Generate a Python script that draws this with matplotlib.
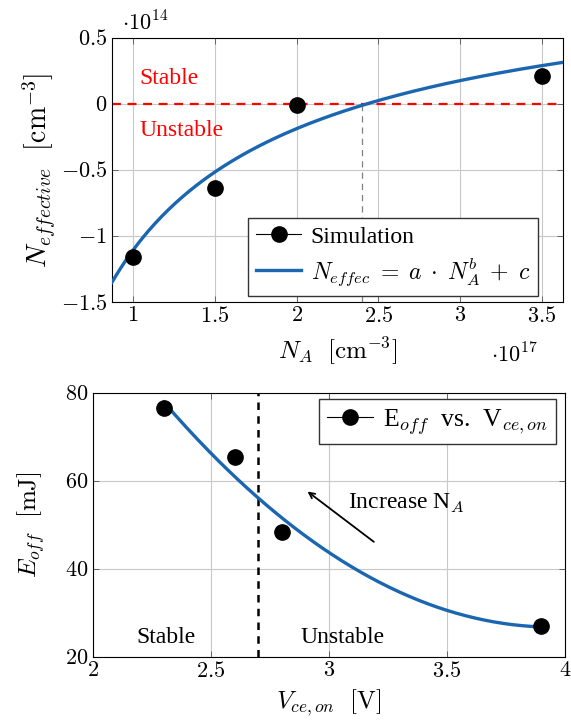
import numpy as np
import matplotlib

matplotlib.use("Agg")
import matplotlib.pyplot as plt  # noqa: E402
from matplotlib.lines import Line2D  # noqa: E402
from matplotlib.ticker import FuncFormatter  # noqa: E402

plt.rcParams["mathtext.fontset"] = "cm"
plt.rcParams["font.family"] = ["Liberation Serif", "DejaVu Serif"]

# top panel: effective doping vs acceptor doping (x in 1e17, y in 1e14 cm^-3)
na = [1.0, 1.5, 2.0, 3.5]
n_eff = [-1.16, -0.64, -0.005, 0.21]
fit_a, fit_b, fit_c = -2.39, -0.7, 1.284   # N_effec = a * N_A^b + c
na_cross = 2.40

# bottom panel: turn-off loss vs on-state voltage
vce = [2.3, 2.6, 2.8, 3.9]
eoff = [76.5, 65.5, 48.5, 27.0]
vce_limit = 2.7

blue = "#1b66b1"
TXT = 17
LBL = 18


def tick_fmt(v, _):
    return f"${v:g}$"


fig = plt.figure(figsize=(5.71, 7.28), dpi=100)
ax1 = fig.add_axes([0.196, 0.585, 0.790, 0.363])
ax2 = fig.add_axes([0.163, 0.0975, 0.826, 0.3626])

for ax in (ax1, ax2):
    ax.grid(True, color="#c8c8c8", lw=0.8)
    ax.set_axisbelow(True)
    ax.tick_params(direction="in", top=True, right=True, length=4, width=0.6,
                   color="#555555", labelsize=16)
    ax.xaxis.set_major_formatter(FuncFormatter(tick_fmt))
    ax.yaxis.set_major_formatter(FuncFormatter(tick_fmt))
    for s in ax.spines.values():
        s.set_linewidth(0.8)

# ---- top
xs = np.linspace(0.87, 3.63, 200)
ax1.axhline(0, color="red", ls=(0, (4, 3)), lw=1.6, zorder=2)
ax1.plot([na_cross, na_cross], [-1.5, 0], color="gray", ls=(0, (5, 4)), lw=0.9, zorder=2)
fit_line, = ax1.plot(xs, fit_a * xs ** fit_b + fit_c, color=blue, lw=2.4, zorder=3)
ax1.plot(na, n_eff, "o", color="black", ms=11, zorder=4)
sim = Line2D([], [], color="black", marker="o", ms=11, lw=0.8)
ax1.legend([sim, fit_line],
           ["Simulation", r"$N_{effec}\;=\;a\;\cdot\;N_A^b\;+\;c$"],
           loc="lower right", bbox_to_anchor=(0.945, 0.023), borderaxespad=0,
           fancybox=False, edgecolor="#333333", framealpha=1, fontsize=TXT,
           handlelength=1.9, handletextpad=0.4, borderpad=0.35, labelspacing=0.35)
ax1.set_xlim(0.87, 3.63)
ax1.set_ylim(-1.5, 0.5)
ax1.set_xticks([1, 1.5, 2, 2.5, 3, 3.5])
ax1.set_yticks([-1.5, -1, -0.5, 0, 0.5])
ax1.text(1.04, 0.195, "Stable", color="red", fontsize=TXT, va="center")
ax1.text(1.04, -0.2, "Unstable", color="red", fontsize=TXT, va="center")
ax1.set_xlabel(r"$N_A\ \ [\mathrm{cm}^{-3}]$", fontsize=LBL, labelpad=6)
ax1.set_ylabel(r"$N_{effective}\ \ [\mathrm{cm}^{-3}]$", fontsize=20, labelpad=2)
fig.text(0.213, 0.968, r"$\cdot 10^{14}$", fontsize=16, ha="left", va="center")
fig.text(0.86, 0.512, r"$\cdot 10^{17}$", fontsize=16, ha="left", va="center")

# ---- bottom
coef = np.polyfit(vce, eoff, 2)
xv = np.linspace(vce[0], vce[-1], 200)
ax2.axvline(vce_limit, color="black", ls=(0, (3, 2.5)), lw=1.8, zorder=2)
ax2.plot(xv, np.polyval(coef, xv), color=blue, lw=2.4, zorder=3)
ax2.plot(vce, eoff, "o", color="black", ms=11, zorder=4)
sim2 = Line2D([], [], color="black", marker="o", ms=11, lw=0.8)
ax2.legend([sim2], [r"E$_{off}$  vs.  V$_{ce,on}$"], loc="upper right",
           bbox_to_anchor=(0.981, 0.977), borderaxespad=0,
           fancybox=False, edgecolor="#333333", framealpha=1, fontsize=18.5,
           handlelength=1.8, handletextpad=0.4, borderpad=0.3)
ax2.annotate("", xy=(2.9, 58.0), xytext=(3.2, 45.8),
             arrowprops=dict(arrowstyle="->", color="black", lw=1.3))
ax2.text(3.08, 55, r"Increase N$_A$", fontsize=TXT, va="center")
ax2.text(2.31, 24.5, "Stable", fontsize=TXT, ha="center", va="center")
ax2.text(3.06, 24.5, "Unstable", fontsize=TXT, ha="center", va="center")
ax2.set_xlim(2, 4)
ax2.set_ylim(20, 80)
ax2.set_xticks([2, 2.5, 3, 3.5, 4])
ax2.set_yticks([20, 40, 60, 80])
ax2.set_xlabel(r"$V_{ce,on}\ \ [\mathrm{V}]$", fontsize=LBL, labelpad=4)
ax2.set_ylabel(r"$E_{off}\ \ [\mathrm{mJ}]$", fontsize=LBL, labelpad=13)

fig.savefig("out.png", dpi=100)
